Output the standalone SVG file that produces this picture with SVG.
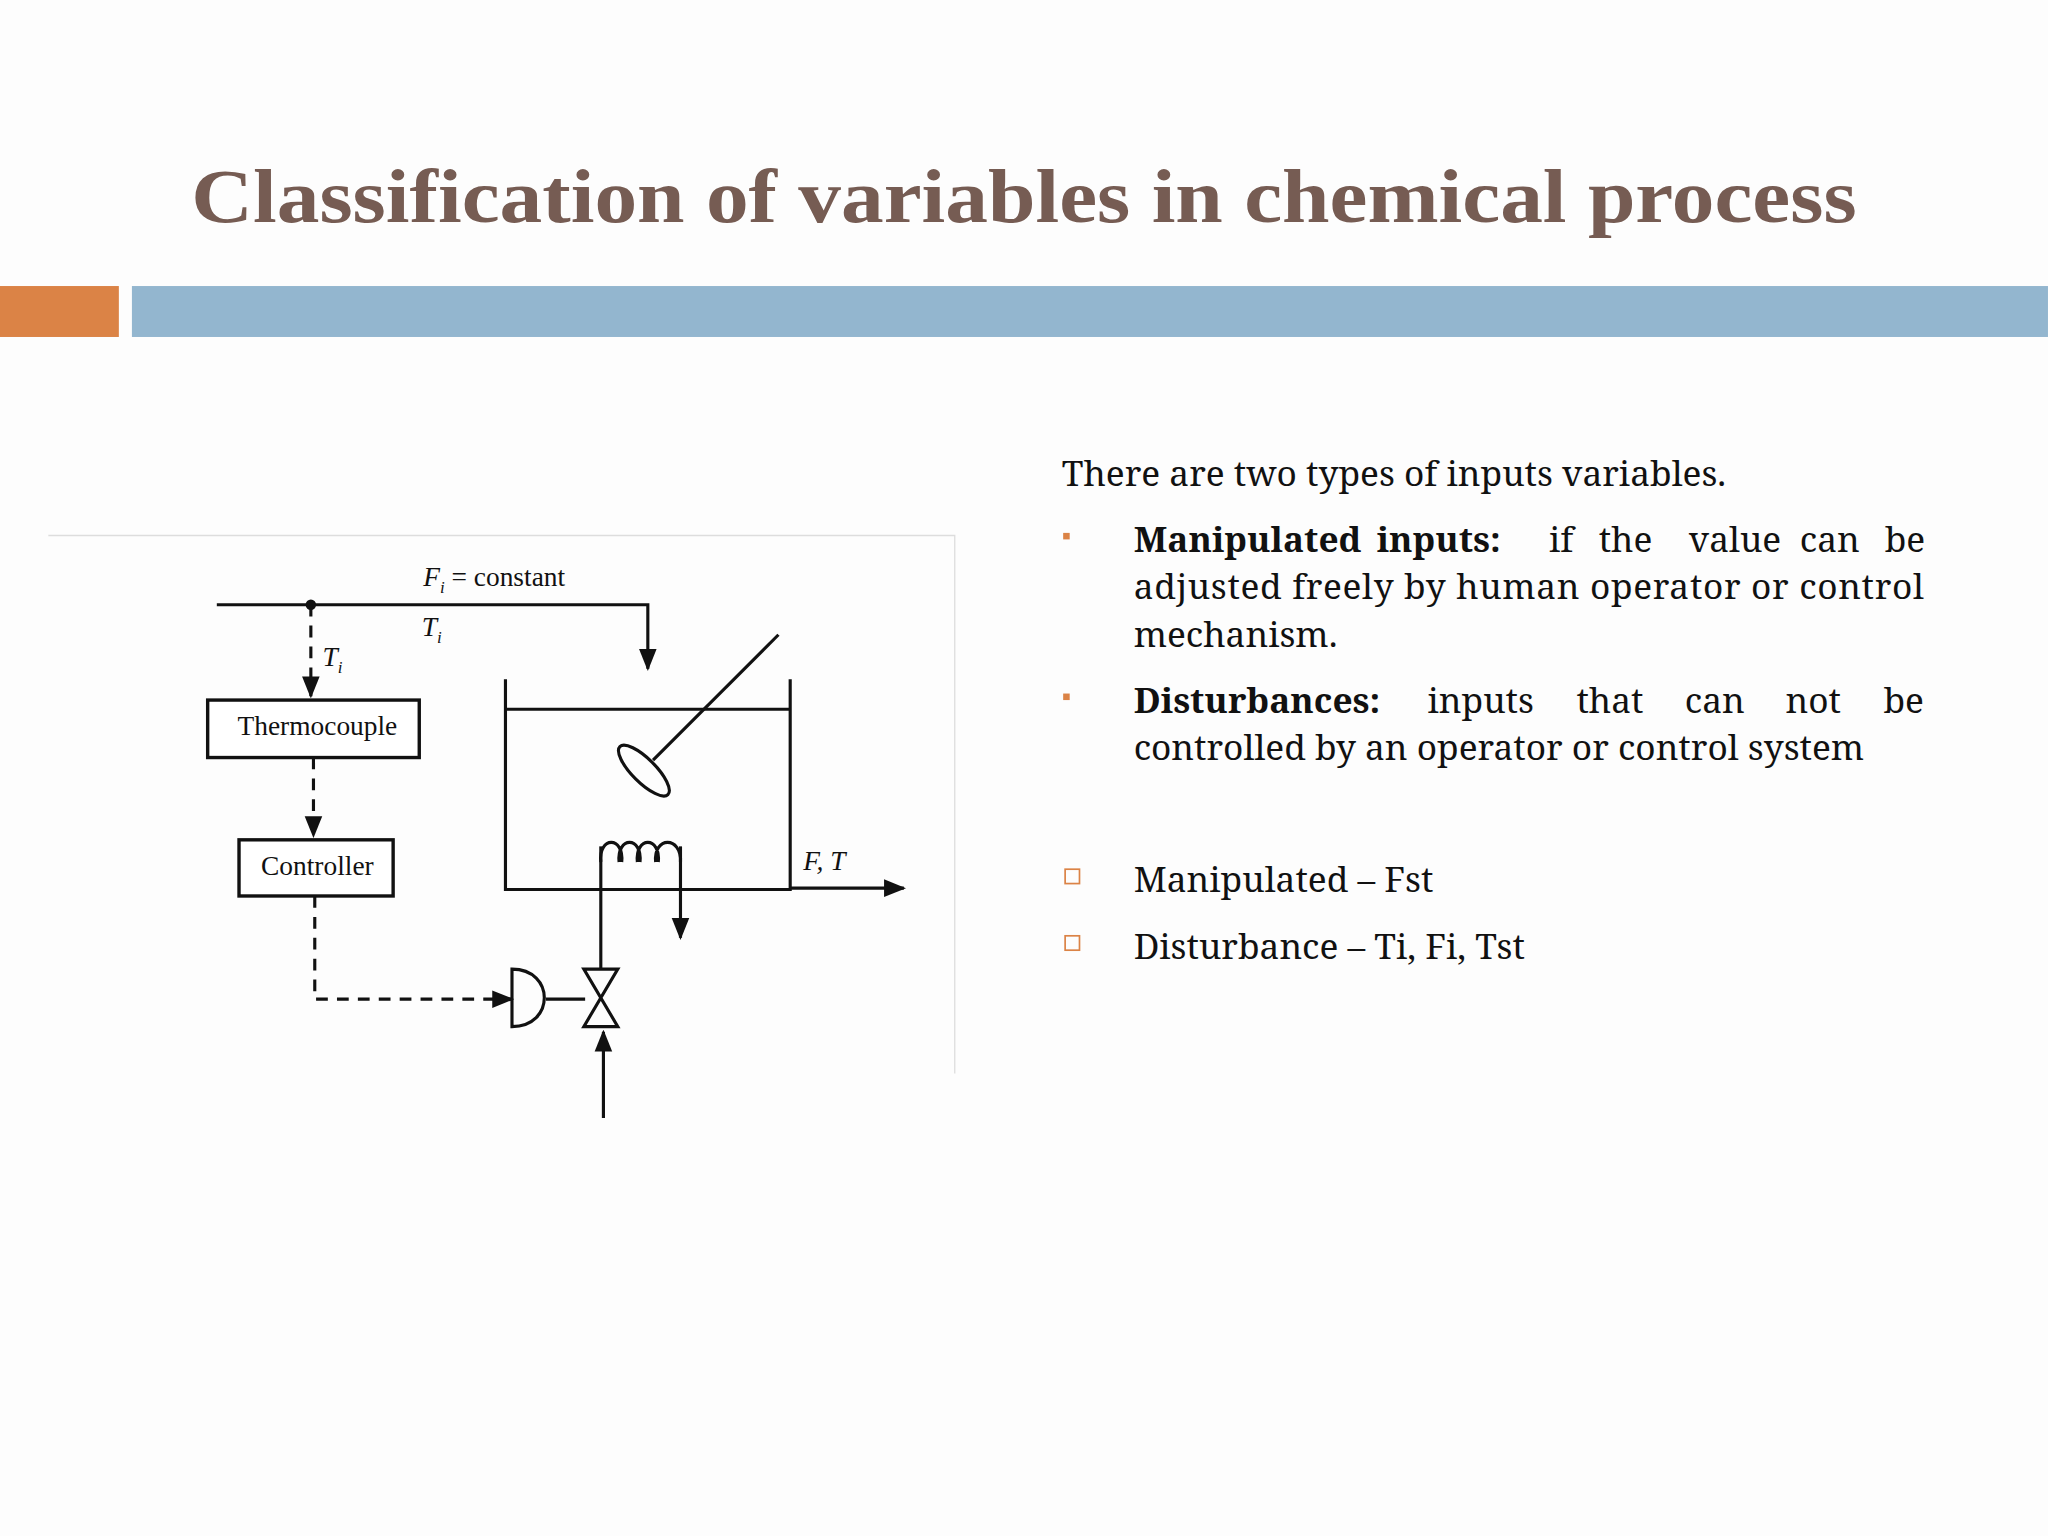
<svg xmlns="http://www.w3.org/2000/svg" width="2048" height="1536" viewBox="0 0 2048 1536">
<defs>
<style>
.ln{stroke:#111;stroke-width:2.4;fill:none}
.dash{stroke:#111;stroke-width:2.4;fill:none;stroke-dasharray:9,7}
.box{stroke:#111;stroke-width:2.6;fill:#fff}
.dl{font-family:"Liberation Serif",serif;font-size:21px;fill:#111}
.it{font-style:italic}
.bt{font-family:"Noto Serif","DejaVu Serif","Liberation Serif",serif;font-size:27px;fill:#111}
</style>
<marker id="ah" viewBox="0 0 10 10" refX="9" refY="5" markerWidth="7" markerHeight="7" orient="auto"><path d="M0,1 L10,5 L0,9 Z" fill="#111"/></marker>
</defs>
<rect width="2048" height="1536" fill="#fdfdfd"/>
<g transform="scale(1.3061)">
<text x="784" y="170" text-anchor="middle" font-family="Liberation Serif,serif" font-weight="bold" font-size="58" fill="#765c53" textLength="1275" lengthAdjust="spacingAndGlyphs">Classification of variables in chemical process</text>
<rect x="0" y="219" width="91" height="39" fill="#db8346"/>
<rect x="101" y="219" width="1467" height="39" fill="#93b6cf"/>

<path d="M37,410 H731 V822" stroke="#ddd" stroke-width="1" fill="none"/>
<g id="connectors">
<path class="ln" d="M166,463 H496 V512" marker-end="url(#ah)"/>
<circle cx="238" cy="463" r="4" fill="#111"/>
<path class="dash" d="M238,463 V533" marker-end="url(#ah)"/>
<path class="dash" d="M240,580 V640" marker-end="url(#ah)"/>
<path class="dash" d="M241,686 V765 H392" marker-end="url(#ah)"/>
<path class="ln" d="M418,765 H448"/>
<path class="ln" d="M460,742 V648"/>
<path class="ln" d="M521,648 V718" marker-end="url(#ah)"/>
<path class="ln" d="M462,856 V790" marker-end="url(#ah)"/>
<path class="ln" d="M605,680 H692" marker-end="url(#ah)"/>
</g>
<g id="thermocouple"><rect class="box" x="159" y="536" width="162" height="44"/><text class="dl" x="243" y="563" text-anchor="middle">Thermocouple</text></g>
<g id="controller"><rect class="box" x="183" y="643" width="118" height="43"/><text class="dl" x="243" y="670" text-anchor="middle">Controller</text></g>
<g id="tank">
<path class="ln" d="M387,520 V681 H605 V520"/>
<path class="ln" d="M387,543 H605"/>
<path class="ln" d="M596,486 L500,582"/>
<ellipse cx="493" cy="590" rx="26" ry="9" transform="rotate(45 493 590)" class="ln"/>
<path class="ln" d="M460,660 C458,640 478,640 476,660 M474,660 C472,640 492,640 490,660 M488,660 C486,640 506,640 504,660 M502,660 C500,640 522,640 521,660"/>
</g>
<g id="valve">
<path class="ln" d="M392,742 V786 C425,786 425,742 392,742 Z"/>
<path class="ln" d="M447,742 H473 L447,786 H473 Z" fill="#fff"/>
</g>
<g id="labels">
<text class="dl" x="324" y="449"><tspan class="it">F</tspan><tspan class="it" font-size="13" dy="5">i</tspan><tspan dy="-5"> = constant</tspan></text>
<text class="dl it" x="323" y="487">T<tspan font-size="13" dy="5">i</tspan></text>
<text class="dl it" x="247" y="510">T<tspan font-size="13" dy="5">i</tspan></text>
<text class="dl it" x="615" y="666">F, T</text>
</g>

<text class="bt" x="813" y="372">There are two types of inputs variables.</text>
<rect x="814" y="408" width="5" height="5" fill="#db8346"/>
<rect x="814" y="531" width="5" height="5" fill="#db8346"/>
<text class="bt" y="423"><tspan x="868" font-weight="bold">Manipulated</tspan><tspan x="1054" font-weight="bold">inputs:</tspan><tspan x="1186">if</tspan><tspan x="1224">the</tspan><tspan x="1293">value</tspan><tspan x="1378">can</tspan><tspan x="1443">be</tspan></text>
<text class="bt" x="868" y="459" textLength="605" lengthAdjust="spacing">adjusted freely by human operator or control</text>
<text class="bt" x="868" y="495">mechanism.</text>
<text class="bt" y="546"><tspan x="868" font-weight="bold">Disturbances:</tspan><tspan x="1093">inputs</tspan><tspan x="1207">that</tspan><tspan x="1290">can</tspan><tspan x="1367">not</tspan><tspan x="1442">be</tspan></text>
<text class="bt" x="868" y="582">controlled by an operator or control system</text>
<rect x="815.5" y="665.5" width="11" height="11" fill="none" stroke="#db8346" stroke-width="1.3"/>
<rect x="815.5" y="716.5" width="11" height="11" fill="none" stroke="#db8346" stroke-width="1.3"/>
<text class="bt" x="868" y="683">Manipulated – Fst</text>
<text class="bt" x="868" y="734">Disturbance – Ti, Fi, Tst</text>
</g>
</svg>
